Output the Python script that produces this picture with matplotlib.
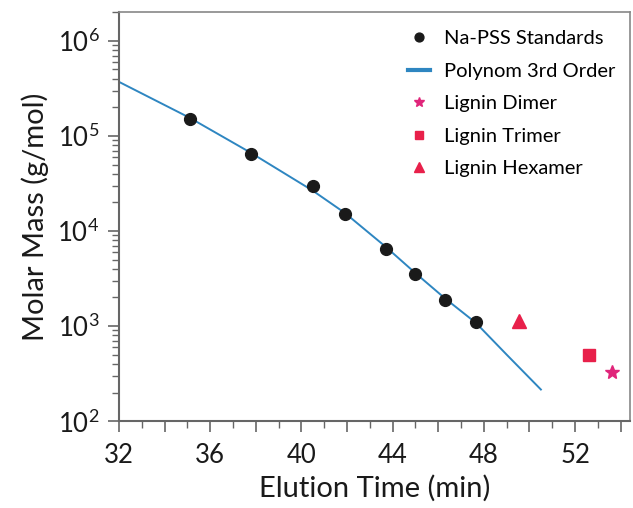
import numpy as np
import matplotlib
matplotlib.use("Agg")
import matplotlib.pyplot as plt
from matplotlib.ticker import MultipleLocator, LogLocator, FuncFormatter

plt.rcParams['font.family'] = ['Lato', 'DejaVu Sans']
plt.rcParams['mathtext.default'] = 'regular'

# Na-PSS standards
std_time = [35.1, 37.8, 40.5, 41.9, 43.7, 45.0, 46.3, 47.65]
std_mass = [1.49e5, 6.4e4, 2.95e4, 1.5e4, 6.5e3, 3.55e3, 1.9e3, 1.1e3]

# 3rd order polynomial calibration curve
fit_time = [32.0, 35.1, 37.8, 40.5, 41.9, 43.7, 45.0, 46.3, 47.65, 49.0, 50.5]
fit_mass = [3.7e5, 1.55e5, 6.6e4, 2.65e4, 1.55e4, 6.8e3, 3.6e3, 1.95e3, 1.08e3, 5.0e2, 2.15e2]

# lignin oligomers
dimer_time, dimer_mass = [53.6], [328]
trimer_time, trimer_mass = [52.6], [495]
hexamer_time, hexamer_mass = [49.55], [1120]

fig = plt.figure(figsize=(6.33, 5.08), dpi=100)
ax = fig.add_axes([0.188, 0.171, 0.807, 0.805])

ax.plot(std_time, std_mass, 'o', color='#1a1a1a', ms=8.5, label='Na-PSS Standards', zorder=3)
ax.plot(fit_time, fit_mass, '-', color='#2e86c1', lw=1.4, label='Polynom 3rd Order', zorder=2)
ax.plot(dimer_time, dimer_mass, '*', color='#e0257a', ms=10, label='Lignin Dimer')
ax.plot(trimer_time, trimer_mass, 's', color='#e8204a', ms=8, label='Lignin Trimer')
ax.plot(hexamer_time, hexamer_mass, '^', color='#e8204a', ms=10, label='Lignin Hexamer')

ax.set_yscale('log')
ax.set_xlim(32, 54.4)
ax.set_ylim(100, 2e6)

ax.xaxis.set_major_locator(MultipleLocator(2))
ax.xaxis.set_minor_locator(MultipleLocator(1))
ax.xaxis.set_major_formatter(FuncFormatter(lambda v, p: f'{v:.0f}' if v % 4 == 0 else ''))
ax.yaxis.set_major_locator(LogLocator(base=10, numticks=10))
ax.yaxis.set_minor_locator(LogLocator(base=10, subs=np.arange(2, 10), numticks=20))
ax.yaxis.set_major_formatter(FuncFormatter(lambda v, p: '$10^{%d}$' % round(np.log10(v))))

ax.tick_params(which='both', direction='out', color='#666666', labelsize=18.5, labelcolor='#1a1a1a')
ax.tick_params(which='major', length=8, width=1.2)
ax.tick_params(which='minor', length=5, width=1.0)
ax.tick_params(axis='x', pad=8)
ax.tick_params(axis='y', pad=6)

for s in ['left', 'bottom']:
    ax.spines[s].set_color('#666666')
    ax.spines[s].set_linewidth(1.5)
for s in ['top', 'right']:
    ax.spines[s].set_color('#888888')
    ax.spines[s].set_linewidth(1.2)

ax.set_xlabel('Elution Time (min)', fontsize=21, color='#1a1a1a', labelpad=5)
ax.set_ylabel('Molar Mass (g/mol)', fontsize=21, color='#1a1a1a', labelpad=6)

leg = ax.legend(loc='upper right', bbox_to_anchor=(1.0, 0.99), frameon=False, fontsize=14.5,
                handlelength=1.1, labelspacing=0.76, borderaxespad=0.3, handletextpad=0.7,
                markerscale=0.75)
leg.get_lines()[1].set_linewidth(3)

fig.savefig('out.png', dpi=100)
